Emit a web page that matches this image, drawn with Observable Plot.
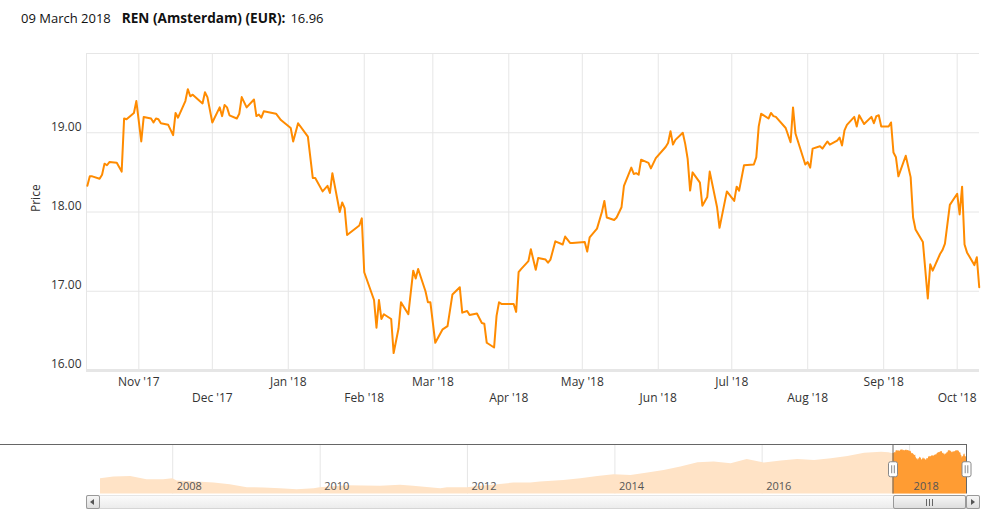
<!DOCTYPE html>
<html><head><meta charset="utf-8">
<script src="https://cdn.jsdelivr.net/npm/d3@7"></script>
<script src="https://cdn.jsdelivr.net/npm/@observablehq/plot@0.6"></script>
<style>
body{margin:0;background:#fff;font-family:"Open Sans",sans-serif;}
#wrap{position:relative;width:995px;height:520px;overflow:hidden;background:#fff}
#hdr{position:absolute;left:21px;top:8px;font-size:13px;color:#111;white-space:nowrap;line-height:20px}
#hdr b{margin-left:11px;margin-right:5px;font-size:13.6px}
#main{position:absolute;left:0;top:0}
#nav{position:absolute;left:0;top:434px}
.sb{position:absolute;box-sizing:border-box}
</style></head>
<body><div id="wrap">
<div id="hdr"><span>09 March 2018</span><b>REN (Amsterdam) (EUR):</b><span>16.96</span></div>
</div>
<script>
// ---- main series (daily close, EUR) ----
const dates = [
"2017-10-11","2017-10-12","2017-10-13","2017-10-16","2017-10-17","2017-10-18","2017-10-19","2017-10-20","2017-10-23","2017-10-25",
"2017-10-26","2017-10-27","2017-10-30","2017-10-31","2017-11-02","2017-11-03","2017-11-06","2017-11-07","2017-11-08","2017-11-09",
"2017-11-10","2017-11-13","2017-11-15","2017-11-16","2017-11-17","2017-11-20","2017-11-21","2017-11-22","2017-11-23","2017-11-27",
"2017-11-28","2017-11-29","2017-12-01","2017-12-04","2017-12-05","2017-12-06","2017-12-07","2017-12-08","2017-12-11","2017-12-12",
"2017-12-13","2017-12-15","2017-12-18","2017-12-19","2017-12-20","2017-12-21","2017-12-22","2017-12-27","2017-12-29","2018-01-02",
"2018-01-03","2018-01-05","2018-01-09","2018-01-11","2018-01-12","2018-01-15","2018-01-17","2018-01-18","2018-01-19","2018-01-22",
"2018-01-23","2018-01-24","2018-01-25","2018-01-30","2018-01-31","2018-02-01","2018-02-05","2018-02-06","2018-02-07","2018-02-08",
"2018-02-09","2018-02-12","2018-02-13","2018-02-15","2018-02-16","2018-02-19","2018-02-21","2018-02-22","2018-02-23","2018-02-26",
"2018-02-27","2018-02-28","2018-03-02","2018-03-05","2018-03-07","2018-03-09","2018-03-12","2018-03-13","2018-03-15","2018-03-16",
"2018-03-19","2018-03-21","2018-03-22","2018-03-23","2018-03-26","2018-03-27","2018-03-28","2018-03-29","2018-04-03","2018-04-04",
"2018-04-05","2018-04-06","2018-04-09","2018-04-10","2018-04-12","2018-04-13","2018-04-16","2018-04-17","2018-04-18","2018-04-20",
"2018-04-23","2018-04-24","2018-04-26","2018-04-27","2018-05-02","2018-05-03","2018-05-04","2018-05-07","2018-05-09","2018-05-10",
"2018-05-11","2018-05-14","2018-05-15","2018-05-17","2018-05-18","2018-05-21","2018-05-22","2018-05-23","2018-05-24","2018-05-25",
"2018-05-28","2018-05-29","2018-05-31","2018-06-04","2018-06-05","2018-06-06","2018-06-07","2018-06-08","2018-06-11","2018-06-12",
"2018-06-13","2018-06-14","2018-06-15","2018-06-18","2018-06-19","2018-06-21","2018-06-22","2018-06-25","2018-06-26","2018-06-29",
"2018-07-02","2018-07-03","2018-07-04","2018-07-06","2018-07-10","2018-07-11","2018-07-12","2018-07-13","2018-07-16","2018-07-17",
"2018-07-18","2018-07-19","2018-07-23","2018-07-25","2018-07-26","2018-07-27","2018-07-31","2018-08-01","2018-08-02","2018-08-03",
"2018-08-06","2018-08-07","2018-08-09","2018-08-10","2018-08-13","2018-08-14","2018-08-15","2018-08-16","2018-08-17","2018-08-20",
"2018-08-21","2018-08-22","2018-08-24","2018-08-27","2018-08-28","2018-08-29","2018-08-30","2018-08-31","2018-09-03","2018-09-04",
"2018-09-05","2018-09-06","2018-09-07","2018-09-10","2018-09-12","2018-09-13","2018-09-14","2018-09-17","2018-09-19","2018-09-20",
"2018-09-21","2018-09-24","2018-09-25","2018-09-26","2018-09-28","2018-10-01","2018-10-02","2018-10-03","2018-10-04","2018-10-05",
"2018-10-08","2018-10-09","2018-10-10"];
const prices = [
18.33,18.45,18.45,18.42,18.47,18.61,18.59,18.63,18.62,18.51,
19.18,19.17,19.25,19.40,18.89,19.20,19.18,19.13,19.18,19.17,
19.12,19.10,18.97,19.25,19.19,19.40,19.55,19.46,19.48,19.37,
19.51,19.45,19.13,19.32,19.21,19.35,19.32,19.22,19.18,19.24,
19.45,19.32,19.42,19.21,19.23,19.19,19.27,19.24,19.16,19.06,
18.89,19.12,18.95,18.43,18.43,18.26,18.33,18.24,18.49,18.00,
18.12,18.05,17.71,17.83,17.92,17.24,16.89,16.54,16.89,16.65,
16.71,16.65,16.22,16.53,16.86,16.71,17.26,17.16,17.28,17.00,
16.86,16.86,16.35,16.52,16.56,16.96,17.05,16.73,16.75,16.70,
16.72,16.60,16.59,16.35,16.29,16.69,16.86,16.84,16.84,16.74,
17.24,17.28,17.38,17.53,17.27,17.42,17.40,17.36,17.40,17.63,
17.59,17.69,17.61,17.61,17.62,17.50,17.68,17.79,18.00,18.14,
17.93,17.90,17.93,18.06,18.33,18.56,18.48,18.49,18.47,18.66,
18.62,18.55,18.68,18.82,18.87,19.02,18.85,18.91,19.00,18.86,
18.67,18.27,18.50,18.37,18.08,18.19,18.51,18.06,17.80,18.26,
18.14,18.32,18.27,18.59,18.60,18.69,19.08,19.24,19.18,19.25,
19.21,19.20,19.06,18.88,19.32,18.99,18.60,18.63,18.56,18.80,
18.83,18.80,18.89,18.85,18.90,18.94,18.84,19.03,19.10,19.20,
19.08,19.22,19.11,19.20,19.12,19.21,19.22,19.08,19.08,19.13,
18.75,18.69,18.45,18.71,18.44,17.93,17.78,17.62,16.91,17.34,
17.26,17.47,17.52,17.60,18.09,18.23,17.97,18.32,17.59,17.49,
17.33,17.43,17.05];

// ---- navigator history (long range, EUR) ----
const navDates = [
"2007-01-08","2007-03-15","2007-06-07","2007-08-26","2007-11-17","2008-01-01","2008-01-23","2008-05-01","2008-07-24","2008-10-12",
"2009-01-05","2009-03-29","2009-06-18","2009-09-09","2009-12-02","2010-01-01","2010-05-16","2010-10-27","2011-02-03","2011-04-09",
"2011-08-22","2011-09-24","2012-01-01","2012-03-06","2012-05-30","2012-08-18","2012-11-10","2012-12-28","2013-04-23","2013-07-16",
"2013-10-08","2013-12-28","2014-03-22","2014-06-14","2014-09-02","2014-11-24","2015-02-17","2015-05-08","2015-07-31","2015-10-19",
"2016-01-12","2016-04-05","2016-06-25","2016-09-17","2016-12-09","2017-03-01","2017-05-23","2017-08-15","2017-09-20"];
const navPrices = [
10.8,11.3,11.5,10.5,10.5,10.8,10.1,9.8,9.5,9.0,
8.1,8.0,7.8,7.5,7.8,8.1,8.7,8.5,8.8,8.5,
7.8,8.1,8.1,8.5,9.0,9.5,9.5,9.8,10.3,10.8,
11.5,12.0,11.8,12.5,13.3,14.3,15.6,15.8,15.3,16.6,
15.5,16.1,16.6,16.3,16.8,17.5,18.5,18.8,18.6];

// ---- ticks ----
const yTicks = [16, 17, 18, 19];
const yGrid = [16, 17, 18, 19, 20];
const monthsRowA = ["2017-11-01","2018-01-01","2018-03-01","2018-05-01","2018-07-01","2018-09-01"];
const monthsRowB = ["2017-12-01","2018-02-01","2018-04-01","2018-06-01","2018-08-01","2018-10-01"];
const yearTicks = ["2008-01-01","2010-01-01","2012-01-01","2014-01-01","2016-01-01","2018-01-01"];

const series = dates.map((d, i) => ({date: new Date(d), price: prices[i]}));
const navSeries = navDates.map((d, i) => ({date: new Date(d), price: navPrices[i]})).concat(series);
const rowA = monthsRowA.map(d => new Date(d));
const rowB = monthsRowB.map(d => new Date(d));
const years = yearTicks.map(d => new Date(d));
const allMonths = rowA.concat(rowB);

const xDomain = [new Date("2017-10-10T15:36Z"), new Date("2018-10-10T02:30Z")];
const fmtMonth = d3.utcFormat("%b '%y");
const orange = "#ff8b00";

const main = Plot.plot({
  width: 995, height: 410,
  marginLeft: 86, marginRight: 16, marginTop: 53, marginBottom: 40,
  style: {fontFamily: "Open Sans", fontSize: "12px", color: "#333", background: "transparent", overflow: "visible"},
  x: {type: "utc", domain: xDomain},
  y: {domain: [16, 20]},
  marks: [
    Plot.gridX(allMonths, {stroke: "#e6e6e6", strokeOpacity: 1}),
    Plot.gridY(yGrid, {stroke: "#e6e6e6", strokeOpacity: 1}),
    Plot.ruleX([xDomain[0]], {stroke: "#e6e6e6"}),
    Plot.ruleY([16], {stroke: "#e6e6e6", strokeWidth: 3}),
    Plot.axisY(yTicks, {tickSize: 0, tickPadding: 5, tickFormat: d3.format(".2f"), dy: -6, label: null, fill: "#333"}),
    Plot.axisX(rowA, {tickSize: 0, tickPadding: 6.5, tickFormat: fmtMonth, label: null, fill: "#333"}),
    Plot.axisX(rowB, {tickSize: 0, tickPadding: 23, tickFormat: fmtMonth, label: null, fill: "#333"}),
    Plot.text(["Price"], {frameAnchor: "left", rotate: -90, dx: -50, fill: "#333", fontSize: 12}),
    Plot.lineY(series, {x: "date", y: "price", stroke: orange, strokeWidth: 2})
  ]
});
main.id = "main";
document.getElementById("wrap").appendChild(main);

// ---- navigator ----
const selStart = xDomain[0], selEnd = series[series.length - 1].date;
const handle = {draw(ctx) {
  const w = 4.5, h = 7.5, r = 2;
  ctx.moveTo(-w + r, -h); ctx.lineTo(w - r, -h); ctx.arcTo(w, -h, w, -h + r, r);
  ctx.lineTo(w, h - r); ctx.arcTo(w, h, w - r, h, r); ctx.lineTo(-w + r, h);
  ctx.arcTo(-w, h, -w, h - r, r); ctx.lineTo(-w, -h + r); ctx.arcTo(-w, -h, -w + r, -h, r); ctx.closePath();
  ctx.moveTo(-1.3, -4); ctx.lineTo(-1.3, 4); ctx.moveTo(1.3, -4); ctx.lineTo(1.3, 4);
}};
const selData = [{date: selStart, price: series[0].price}].concat(series);
const nav = Plot.plot({
  width: 995, height: 60,
  marginLeft: 86, marginRight: 15, marginTop: 10, marginBottom: 0.5,
  style: {fontFamily: "Open Sans", fontSize: "11px", background: "transparent", overflow: "visible"},
  x: {type: "utc", domain: [navSeries[0].date, selEnd], range: [100, 966], axis: null},
  y: {domain: [6.2, 21.1], axis: null},
  marks: [
    Plot.gridX(years, {stroke: "#e6e6e6", strokeOpacity: 1}),
    Plot.areaY(navSeries, {x: "date", y1: 6.2, y2: "price", fill: "#ffe3c6"}),
    Plot.areaY(selData, {x: "date", y1: 6.2, y2: "price", fill: "#ff9c33"}),
    Plot.text(years, {x: d => d, frameAnchor: "bottom", text: d3.utcFormat("%Y"), textAnchor: "start", dx: 4, dy: -7.5, fill: "#555", fontSize: 11, lineAnchor: "middle"}),
    Plot.ruleY([21.1], {x2: () => selStart, stroke: "#666"}),
    Plot.ruleY([21.1], {x1: () => selEnd, stroke: "#666"}),
    Plot.ruleX([selStart, selEnd], {stroke: "#666"}),
    Plot.dot([selStart, selEnd], {x: d => d, frameAnchor: "middle", symbol: handle, r: 5, fill: "#fff", stroke: "#888", strokeWidth: 1})
  ]
});
nav.id = "nav";
document.getElementById("wrap").appendChild(nav);

// ---- scrollbar chrome ----
const sx = nav.scale("x");
const x0 = sx.apply(selStart), x1 = sx.apply(selEnd);
const wrap = document.getElementById("wrap");
function box(l, t, w, h, css) { const d = document.createElement("div"); d.className = "sb";
  Object.assign(d.style, {left: l + "px", top: t + "px", width: w + "px", height: h + "px"}, css); wrap.appendChild(d); return d; }
box(86, 495, 894, 14, {background: "linear-gradient(#fbfbfb,#ececec)", borderBottom: "1px solid #d5d5d5", borderTop: "1px solid #e6e6e6"});
const grad = "linear-gradient(#f6f6f6,#dedede)";
box(86, 495, 14, 14, {background: grad, border: "1px solid #999", borderRadius: "2px"});
box(966, 495, 14, 14, {background: grad, border: "1px solid #999", borderRadius: "2px"});
box(x0, 495, x1 - x0, 14, {background: grad, border: "1px solid #999", borderRadius: "2px"});
box(90, 498.5, 0, 0, {borderTop: "3.5px solid transparent", borderBottom: "3.5px solid transparent", borderRight: "4px solid #555"});
box(971, 498.5, 0, 0, {borderTop: "3.5px solid transparent", borderBottom: "3.5px solid transparent", borderLeft: "4px solid #555"});
const cx = (x0 + x1) / 2;
[-3, 0, 3].forEach(o => box(cx + o - 0.5, 498.5, 1, 7, {background: "#666"}));
</script>
</body></html>
